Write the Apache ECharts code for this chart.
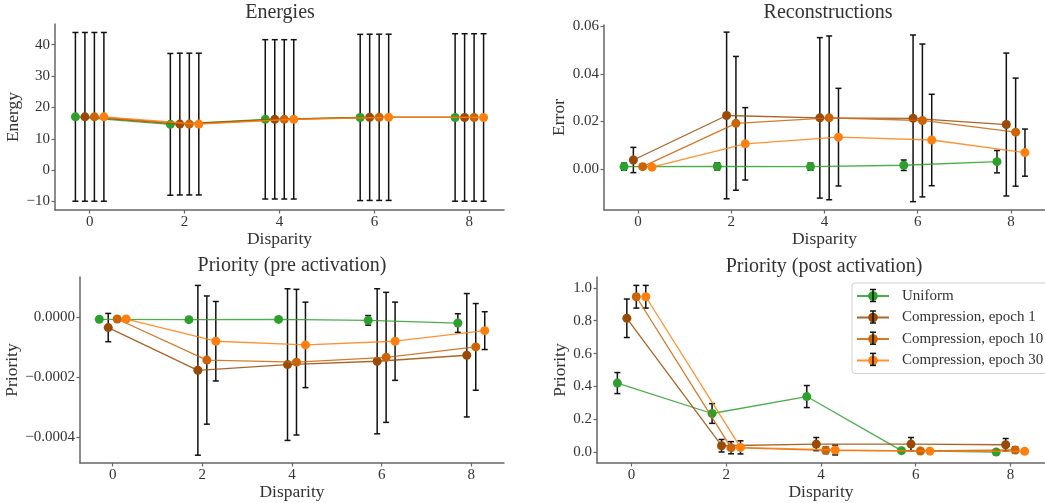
<!DOCTYPE html>
<html><head><meta charset="utf-8">
<script src="https://cdn.jsdelivr.net/npm/echarts@6/dist/echarts.min.js"></script>
<style>html,body{margin:0;padding:0;background:#fff}#c{width:1045px;height:503px}</style>
</head><body><div id="c"></div>
<script>
// ---------- data ----------
const disparities = [0, 2, 4, 6, 8];
const offsets = [-0.3, -0.1, 0.1, 0.3];
const seriesNames = ['Uniform', 'Compression, epoch 1', 'Compression, epoch 10', 'Compression, epoch 30'];
const seriesColors = ['#2ca02c', '#9a4a04', '#cc6306', '#ff7f0e'];
const panelTitles = ['Energies', 'Reconstructions', 'Priority (pre activation)', 'Priority (post activation)'];
const panelYNames = ['Energy', 'Error', 'Priority', 'Priority'];
const xTicks = [0, 2, 4, 6, 8];
const energyTicks = [-10, 0, 10, 20, 30, 40];
const reconTicks = [0, 0.02, 0.04, 0.06];
const preTicks = [-0.0004, -0.0002, 0];
const postTicks = [0, 0.2, 0.4, 0.6, 0.8, 1.0];

// Energies
const energyUniform = [17.0, 14.6, 16.2, 16.8, 16.8];
const energyUniformErr = [26.9, 22.6, 25.4, 26.5, 26.7];
const energyEp1 = [17.0, 14.7, 16.2, 16.85, 16.8];
const energyEp1Err = [26.9, 22.6, 25.4, 26.5, 26.7];
const energyEp10 = [17.0, 14.7, 16.2, 16.85, 16.8];
const energyEp10Err = [26.9, 22.6, 25.4, 26.5, 26.7];
const energyEp30 = [17.0, 14.7, 16.2, 16.85, 16.8];
const energyEp30Err = [26.9, 22.6, 25.4, 26.5, 26.7];

// Reconstructions
const reconUniform = [0.0010, 0.0011, 0.0010, 0.0016, 0.0031];
const reconUniformErr = [0.0015, 0.0015, 0.0015, 0.0022, 0.0047];
const reconEp1 = [0.0038, 0.0225, 0.0215, 0.0213, 0.0187];
const reconEp1Err = [0.0053, 0.0350, 0.0337, 0.0350, 0.0300];
const reconEp10 = [0.0010, 0.0192, 0.0215, 0.0204, 0.0155];
const reconEp10Err = [0.0010, 0.0281, 0.0344, 0.0321, 0.0227];
const reconEp30 = [0.0008, 0.0106, 0.0134, 0.0122, 0.0069];
const reconEp30Err = [0.0006, 0.0152, 0.0205, 0.0192, 0.0099];

// Priority (pre activation)
const preUniform = [-0.0000077, -0.0000088, -0.0000080, -0.0000110, -0.0000200];
const preUniformErr = [0.000003, 0.000004, 0.000004, 0.000016, 0.000031];
const preEp1 = [-0.000035, -0.000177, -0.000158, -0.000147, -0.000127];
const preEp1Err = [0.000047, 0.000282, 0.000252, 0.000241, 0.000205];
const preEp10 = [-0.0000066, -0.000143, -0.000150, -0.000134, -0.0000992];
const preEp10Err = [0.000002, 0.000213, 0.000242, 0.000216, 0.000144];
const preEp30 = [-0.0000066, -0.0000804, -0.0000926, -0.0000804, -0.0000452];
const preEp30Err = [0.000002, 0.000132, 0.000142, 0.000130, 0.0000628];

// Priority (post activation)
const postUniform = [0.421, 0.236, 0.339, 0.010, 0.002];
const postUniformErr = [0.064, 0.060, 0.067, 0.006, 0.004];
const postEp1 = [0.815, 0.040, 0.050, 0.050, 0.046];
const postEp1Err = [0.117, 0.038, 0.040, 0.040, 0.038];
const postEp10 = [0.946, 0.028, 0.012, 0.008, 0.014];
const postEp10Err = [0.069, 0.037, 0.020, 0.006, 0.020];
const postEp30 = [0.946, 0.030, 0.014, 0.007, 0.006];
const postEp30Err = [0.069, 0.040, 0.030, 0.006, 0.006];

const panelMeans = [
  [energyUniform, energyEp1, energyEp10, energyEp30],
  [reconUniform, reconEp1, reconEp10, reconEp30],
  [preUniform, preEp1, preEp10, preEp30],
  [postUniform, postEp1, postEp10, postEp30]
];
const panelErrs = [
  [energyUniformErr, energyEp1Err, energyEp10Err, energyEp30Err],
  [reconUniformErr, reconEp1Err, reconEp10Err, reconEp30Err],
  [preUniformErr, preEp1Err, preEp10Err, preEp30Err],
  [postUniformErr, postEp1Err, postEp10Err, postEp30Err]
];

// ---------- layout ----------
const FONT = '"Liberation Serif", "DejaVu Serif", serif';
const grids = [
  {left: 55, top: 24, width: 449, height: 186},
  {left: 604, top: 25, width: 447, height: 185},
  {left: 80, top: 277, width: 424, height: 186},
  {left: 597, top: 277, width: 454, height: 186}
];
const yRanges = [[-12.7, 46.6], [-0.0172, 0.0605], [-0.000485, 0.000133], [-0.065, 1.066]];
const yTickSets = [energyTicks, reconTicks, preTicks, postTicks];
const yFormat = [
  v => String(Math.round(v)).replace('-', '\u2212'),
  v => v.toFixed(2),
  v => (Math.abs(v) < 1e-12 ? '0.0000' : v.toFixed(4).replace('-', '\u2212')),
  v => v.toFixed(1)
];
const yNameGaps = [28, 30, 53, 23];
const titleCenters = [[280, 3], [828, 3], [292, 256], [824, 257]];

const axisLine = {show: true, onZero: false, lineStyle: {color: '#666', width: 1.5}};
const axisTick = (vals) => ({show: true, inside: false, length: 3.5, lineStyle: {color: '#666', width: 1.2}, customValues: vals});

const option = {
  animation: false,
  backgroundColor: '#fff',
  textStyle: {fontFamily: FONT},
  title: panelTitles.map((t, i) => ({
    text: t, left: titleCenters[i][0], top: titleCenters[i][1], textAlign: 'center', padding: 0,
    textStyle: {fontFamily: FONT, fontSize: 20, fontWeight: 'normal', color: '#333'}
  })),
  grid: grids.map(g => Object.assign({containLabel: false}, g)),
  xAxis: grids.map((g, i) => ({
    type: 'value', gridIndex: i, min: -0.73, max: 8.73,
    name: 'Disparity', nameLocation: 'middle', nameGap: 18,
    nameTextStyle: {fontFamily: FONT, fontSize: 17.5, color: '#333'},
    axisLine: axisLine, axisTick: axisTick(xTicks),
    axisLabel: {customValues: xTicks, fontFamily: FONT, fontSize: 15, color: '#333', margin: 5},
    splitLine: {show: false}
  })),
  yAxis: grids.map((g, i) => ({
    type: 'value', gridIndex: i, min: yRanges[i][0], max: yRanges[i][1],
    name: panelYNames[i], nameLocation: 'middle', nameGap: yNameGaps[i], nameRotate: 90,
    nameTextStyle: {fontFamily: FONT, fontSize: 17.5, color: '#333'},
    axisLine: axisLine, axisTick: axisTick(yTickSets[i]),
    axisLabel: {customValues: yTickSets[i], formatter: yFormat[i], fontFamily: FONT, fontSize: 15, color: '#333', margin: 5},
    splitLine: {show: false}
  })),
  legend: {
    orient: 'vertical', left: 852, top: 283,
    data: seriesNames,
    itemWidth: 32, itemHeight: 12, itemGap: 5.5,
    padding: [5, 30, 5, 4],
    backgroundColor: '#fff', borderColor: '#d0d0d0', borderWidth: 1, borderRadius: 3,
    textStyle: {fontFamily: FONT, fontSize: 15, color: '#333', padding: [0, 0, 0, 8], lineHeight: 16},
    selectedMode: false
  },
  series: []
};

function errRender(params, api) {
  const x = api.value(0), y = api.value(1), e = api.value(2);
  const top = api.coord([x, y + e]);
  const bot = api.coord([x, y - e]);
  const cw = 3;
  const st = {stroke: '#111', lineWidth: 1.5};
  return {
    type: 'group',
    children: [
      {type: 'line', shape: {x1: top[0], y1: top[1], x2: bot[0], y2: bot[1]}, style: st},
      {type: 'line', shape: {x1: top[0] - cw, y1: top[1], x2: top[0] + cw, y2: top[1]}, style: st},
      {type: 'line', shape: {x1: bot[0] - cw, y1: bot[1], x2: bot[0] + cw, y2: bot[1]}, style: st}
    ]
  };
}

for (let p = 0; p < 4; p++) {
  for (let s = 0; s < 4; s++) {
    const pts = disparities.map((d, k) => [d + offsets[s], panelMeans[p][s][k], panelErrs[p][s][k]]);
    option.series.push({
      type: 'custom', xAxisIndex: p, yAxisIndex: p, renderItem: errRender,
      data: pts, encode: {x: 0, y: 1}, z: 2 + s * 0.01, silent: true
    });
    option.series.push({
      type: 'line', name: seriesNames[s], xAxisIndex: p, yAxisIndex: p,
      data: pts.map(q => [q[0], q[1]]),
      symbol: 'circle', symbolSize: 9, showSymbol: true,
      itemStyle: {color: seriesColors[s], opacity: 1},
      lineStyle: {color: seriesColors[s], width: 1.3, opacity: 0.85},
      z: 3 + s * 0.01, silent: true
    });
  }
}

// error-bar glyphs in legend
const legendRows = [295.5, 317, 338.2, 359.4];
option.graphic = legendRows.map(y => ({
  type: 'group', z: 100, silent: true,
  children: [
    {type: 'line', shape: {x1: 873, y1: y - 6, x2: 873, y2: y + 6}, style: {stroke: '#111', lineWidth: 1.5}, z: 100},
    {type: 'line', shape: {x1: 870, y1: y - 6, x2: 876, y2: y - 6}, style: {stroke: '#111', lineWidth: 1.5}, z: 100},
    {type: 'line', shape: {x1: 870, y1: y + 6, x2: 876, y2: y + 6}, style: {stroke: '#111', lineWidth: 1.5}, z: 100}
  ]
}));

const chart = echarts.init(document.getElementById('c'), null, {renderer: 'canvas'});
chart.setOption(option);
</script>
</body></html>
